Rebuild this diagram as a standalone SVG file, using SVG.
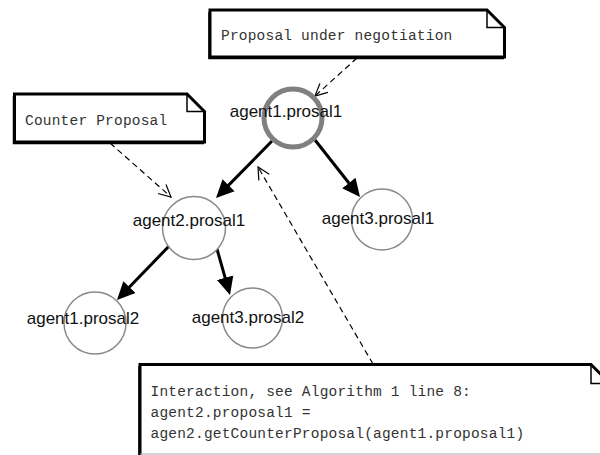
<svg xmlns="http://www.w3.org/2000/svg" width="600" height="455" viewBox="0 0 600 455">
<defs>
<marker id="solid" markerUnits="userSpaceOnUse" markerWidth="20" markerHeight="20" viewBox="0 -10 20 20" refX="8" refY="0" orient="auto">
<path d="M0,-8.5 L18,0 L0,8.5 z" fill="#000"/>
</marker>
<marker id="open" markerUnits="userSpaceOnUse" markerWidth="16" markerHeight="16" viewBox="-14 -8 16 16" refX="0" refY="0" orient="auto">
<path d="M-12,-6 L0,0 L-12,6" fill="none" stroke="#000" stroke-width="1.2"/>
</marker>
</defs>
<style>
.note{fill:#fff;stroke:#000;stroke-width:3;stroke-linejoin:miter}
.fold{fill:none;stroke:#000;stroke-width:1.5}
.ntext{font-family:"Liberation Mono",monospace;font-size:14.5px;letter-spacing:0.2px;fill:#333}
.node{fill:#fff;stroke:#888;stroke-width:1.5}
.root{fill:#fff;stroke:#808080;stroke-width:5}
.label{font-family:"Liberation Sans",Arial,sans-serif;font-size:17px;fill:#111;text-anchor:middle}
.edge{stroke:#000;stroke-width:3;fill:none;marker-end:url(#solid)}
.dash{stroke:#000;stroke-width:1.2;fill:none;stroke-dasharray:6 4;marker-end:url(#open)}
</style>
<rect width="600" height="455" fill="#fff"/>

<g id="note-top">
<path class="note" d="M210,10 L487,10 L504.5,27.5 L504.5,57 L210,57 Z"/>
<path class="fold" d="M487,10 L487,27.5 L504.5,27.5"/>
<path d="M209,12 L209,58.5 L504,58.5" fill="none" stroke="#000" stroke-width="1.5"/>
<text class="ntext" x="221" y="40">Proposal under negotiation</text>
</g>

<g id="note-counter">
<path class="note" d="M14.5,94 L187,94 L204.5,111.5 L204.5,142 L14.5,142 Z"/>
<path class="fold" d="M187,94 L187,111.5 L204.5,111.5"/>
<path d="M13.5,96 L13.5,143.5 L204,143.5" fill="none" stroke="#000" stroke-width="1.5"/>
<text class="ntext" x="25" y="125">Counter Proposal</text>
</g>

<g id="note-interaction">
<path class="note" d="M140,364.5 L591,364.5 L610,383.5 L610,470 L140,470 Z"/>
<path class="fold" d="M591,364.5 L591,383.5 L610,383.5"/>
<path d="M139,366 L139,460" fill="none" stroke="#000" stroke-width="1.5"/>
<line x1="140" y1="454" x2="600" y2="454" stroke="#aaa" stroke-width="1"/>
<text class="ntext" x="150.5" y="396">Interaction, see Algorithm 1 line 8:</text>
<text class="ntext" x="150.5" y="417">agent2.proposal1 =</text>
<text class="ntext" x="150.5" y="438">agen2.getCounterProposal(agent1.proposal1)</text>
</g>

<g id="connectors">
<line class="edge" x1="272" y1="141" x2="223" y2="190.9"/>
<line class="edge" x1="315" y1="140" x2="353.8" y2="189.2"/>
<line class="edge" x1="172" y1="243" x2="123.9" y2="292.8"/>
<line class="edge" x1="215" y1="242" x2="227.3" y2="285.4"/>
<line class="dash" x1="357" y1="58" x2="315" y2="96"/>
<line class="dash" x1="110" y1="143" x2="171" y2="197"/>
<line class="dash" x1="373" y1="364" x2="258" y2="167"/>
</g>

<g id="agent1-prosal1">
<circle class="root" cx="293" cy="118" r="29"/>
<text class="label" x="286" y="117">agent1.prosal1</text>
</g>
<g id="agent2-prosal1">
<circle class="node" cx="194" cy="228" r="31.5"/>
<text class="label" x="189" y="226">agent2.prosal1</text>
</g>
<g id="agent3-prosal1">
<circle class="node" cx="382" cy="219.5" r="30.5"/>
<text class="label" x="378" y="224">agent3.prosal1</text>
</g>
<g id="agent1-prosal2">
<circle class="node" cx="95" cy="323" r="31"/>
<text class="label" x="83" y="324">agent1.prosal2</text>
</g>
<g id="agent3-prosal2">
<circle class="node" cx="252.5" cy="318" r="30"/>
<text class="label" x="248" y="323">agent3.prosal2</text>
</g>
</svg>
